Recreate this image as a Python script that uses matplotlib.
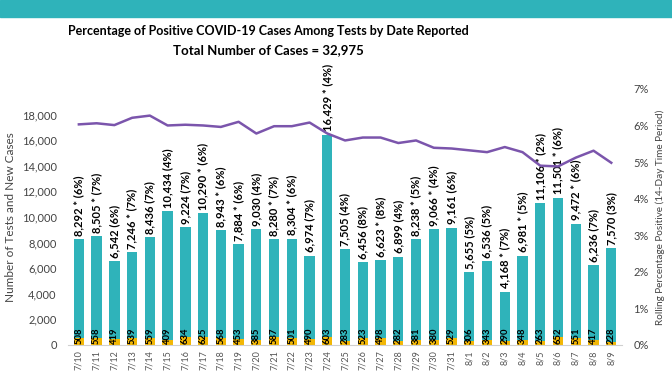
import matplotlib
matplotlib.use("Agg")
from matplotlib import pyplot as plt
from matplotlib.patches import Rectangle

plt.rcParams['font.family'] = ['Lato', 'DejaVu Sans']

# Data
dates = ["7/10", "7/11", "7/12", "7/13", "7/14", "7/15", "7/16", "7/17", "7/18", "7/19",
         "7/20", "7/21", "7/22", "7/23", "7/24", "7/25", "7/26", "7/27", "7/28", "7/29",
         "7/30", "7/31", "8/1", "8/2", "8/3", "8/4", "8/5", "8/6", "8/7", "8/8", "8/9"]
tests = [8292, 8505, 6542, 7246, 8436, 10434, 9224, 10290, 8943, 7884,
         9030, 8280, 8304, 6974, 16429, 7505, 6456, 6623, 6899, 8238,
         9066, 9161, 5655, 6536, 4168, 6981, 11106, 11501, 9472, 6236, 7570]
cases = [508, 558, 419, 539, 559, 409, 634, 625, 568, 453,
         385, 587, 501, 490, 603, 283, 523, 498, 282, 381,
         380, 529, 306, 343, 290, 348, 263, 652, 551, 417, 228]
daily_pct = [6, 7, 6, 7, 7, 4, 7, 6, 6, 6,
             4, 7, 6, 7, 4, 4, 8, 8, 4, 5,
             4, 6, 5, 5, 7, 5, 2, 6, 6, 7, 3]
starred = [1, 1, 0, 1, 0, 0, 0, 1, 1, 1,
           0, 1, 1, 0, 1, 0, 0, 1, 0, 1,
           1, 0, 0, 0, 1, 1, 1, 1, 1, 0, 0]
rolling_pct = [6.03, 6.06, 6.01, 6.21, 6.27, 6.00, 6.02, 6.00, 5.96, 6.10,
               5.78, 5.98, 5.98, 6.08, 5.78, 5.59, 5.67, 5.67, 5.52, 5.59,
               5.39, 5.37, 5.32, 5.27, 5.41, 5.27, 4.90, 4.88, 5.12, 5.31, 4.98]

teal = "#2fb3ba"
gold = "#f2b705"
purple = "#7b55ac"
grey = "#555555"

fig = plt.figure(figsize=(6.72, 3.72), dpi=100)

# top banner
fig.patches.append(Rectangle((0, 0.954), 1, 0.046, transform=fig.transFigure,
                             color=teal, zorder=0))

fig.text(0.40, 0.917, "Percentage of Positive COVID-19 Cases Among Tests by Date Reported",
         ha="center", va="center", fontsize=9, fontweight="bold")
fig.text(0.40, 0.865, "Total Number of Cases = 32,975",
         ha="center", va="center", fontsize=9.5, fontweight="bold")

ax1 = fig.add_axes([0.101, 0.073, 0.825, 0.688])
x = list(range(len(dates)))
rest = [t - c for t, c in zip(tests, cases)]

ax1.bar(x, cases, color=gold, width=0.58, zorder=2)
ax1.bar(x, rest, bottom=cases, color=teal, width=0.58, zorder=2)

for i in x:
    star = " *" if starred[i] else ""
    ax1.text(i, tests[i] + 250, f"{tests[i]:,}{star} ({daily_pct[i]}%)",
             rotation=90, ha="center", va="bottom", fontsize=8, fontweight="bold",
             clip_on=False)
    ax1.text(i, 40, f"{cases[i]}", rotation=90, ha="center", va="bottom",
             fontsize=6.8, fontweight="bold", zorder=3)

ax1.set_xlim(-0.62, len(dates) - 0.38)
ax1.set_ylim(0, 20000)
ax1.set_yticks(range(0, 18001, 2000))
ax1.set_yticklabels([f"{v:,}" for v in range(0, 18001, 2000)])
ax1.set_xticks(x)
ax1.set_xticklabels(dates, rotation=90)
ax1.tick_params(axis="x", labelsize=6.5, colors=grey, length=0, pad=4)
ax1.tick_params(axis="y", labelsize=8, colors="#444444", length=0, pad=8)
ax1.set_ylabel("Number of Tests and New Cases", fontsize=8.5, color="#444444", labelpad=4)
for s in ["top", "right", "left"]:
    ax1.spines[s].set_visible(False)
ax1.spines["bottom"].set_color("#d0d0d0")

ax2 = ax1.twinx()
ax2.plot(x, rolling_pct, color=purple, linewidth=1.8, zorder=4)
ax2.set_ylim(0, 7)
ax2.set_yticks(range(0, 8))
ax2.set_yticklabels([f"{v}%" for v in range(0, 8)])
ax2.tick_params(axis="y", labelsize=8, colors="#444444", length=0, pad=8)
ax2.set_ylabel("Rolling Percentage Positive (14-Day Time Period)", fontsize=7.2,
               color="#444444", labelpad=5)
for s in ["top", "right", "left", "bottom"]:
    ax2.spines[s].set_visible(False)

fig.savefig("out.png", dpi=100)
